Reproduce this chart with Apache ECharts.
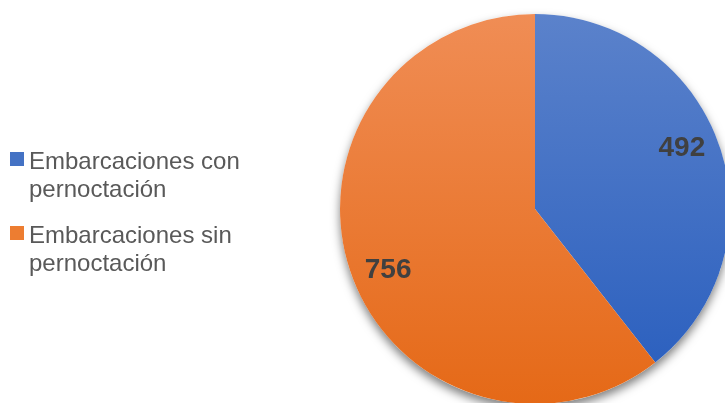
<!DOCTYPE html>
<html>
<head>
<meta charset="utf-8">
<script src="https://cdn.jsdelivr.net/npm/echarts@6/dist/echarts.min.js"></script>
<style>html,body{margin:0;padding:0;background:#fff;}#c{width:725px;height:403px;}</style>
</head>
<body>
<div id="c"></div>
<script>
var categories = ['Embarcaciones con pernoctación', 'Embarcaciones sin pernoctación'];
var values = [492, 756];
var legendColors = ['#4472C4', '#ED7D31'];
var gradTop = ['#5B82CB', '#F08D55'];
var gradBottom = ['#2D61BF', '#E56917'];

var chart = echarts.init(document.getElementById('c'), null, {renderer: 'canvas'});
var total = values.reduce(function (a, b) { return a + b; }, 0);
var center = [535, 209];
var R = 195;

var pieData = categories.map(function (n, i) {
  return {
    name: n, value: values[i],
    itemStyle: {
      color: new echarts.graphic.LinearGradient(0, 0, 0, 1, [
        {offset: 0, color: gradTop[i]}, {offset: 1, color: gradBottom[i]}
      ])
    }
  };
});
var labelData = categories.map(function (n, i) {
  return {name: n, value: values[i]};
});

chart.setOption({
  animation: false,
  legend: {
    orient: 'vertical',
    left: 10,
    top: 148,
    padding: 0,
    itemWidth: 14,
    itemHeight: 48,
    itemGap: 18,
    icon: 'path://M0,0H14V14H0Z M0,47.95V48',
    data: categories.map(function (n, i) { return {name: n, itemStyle: {color: legendColors[i], borderWidth: 0}}; }),
    formatter: function (n) { return n.replace(' pernoctación', '\npernoctación'); },
    textStyle: {fontFamily: 'Liberation Sans, Arial', fontSize: 24, color: '#595959', lineHeight: 28},
    selectedMode: false
  },
  series: [
    {
      type: 'pie', center: center, radius: [0, R], silent: true,
      data: [{name: '_base', value: total}],
      itemStyle: {color: '#ffffff', shadowBlur: 10, shadowOffsetY: 5, shadowOffsetX: 0, shadowColor: 'rgba(0,0,0,0.5)'},
      label: {show: false}, labelLine: {show: false}, emphasis: {disabled: true}
    },
    {
      type: 'pie', center: center, radius: [0, R], startAngle: 90, clockwise: true, silent: true,
      data: pieData,
      itemStyle: {borderWidth: 0},
      label: {show: false}, labelLine: {show: false}, emphasis: {disabled: true}
    },
    {
      type: 'pie', center: center, radius: [R * 0.6, R], startAngle: 93.5, clockwise: true, silent: true,
      data: labelData,
      itemStyle: {color: 'rgba(0,0,0,0)', borderWidth: 0},
      label: {show: true, position: 'inside', formatter: '{c}', fontFamily: 'Liberation Sans, Arial', fontWeight: 'bold', fontSize: 28, color: '#404040'},
      labelLine: {show: false}, emphasis: {disabled: true}
    }
  ]
});
</script>
</body>
</html>
